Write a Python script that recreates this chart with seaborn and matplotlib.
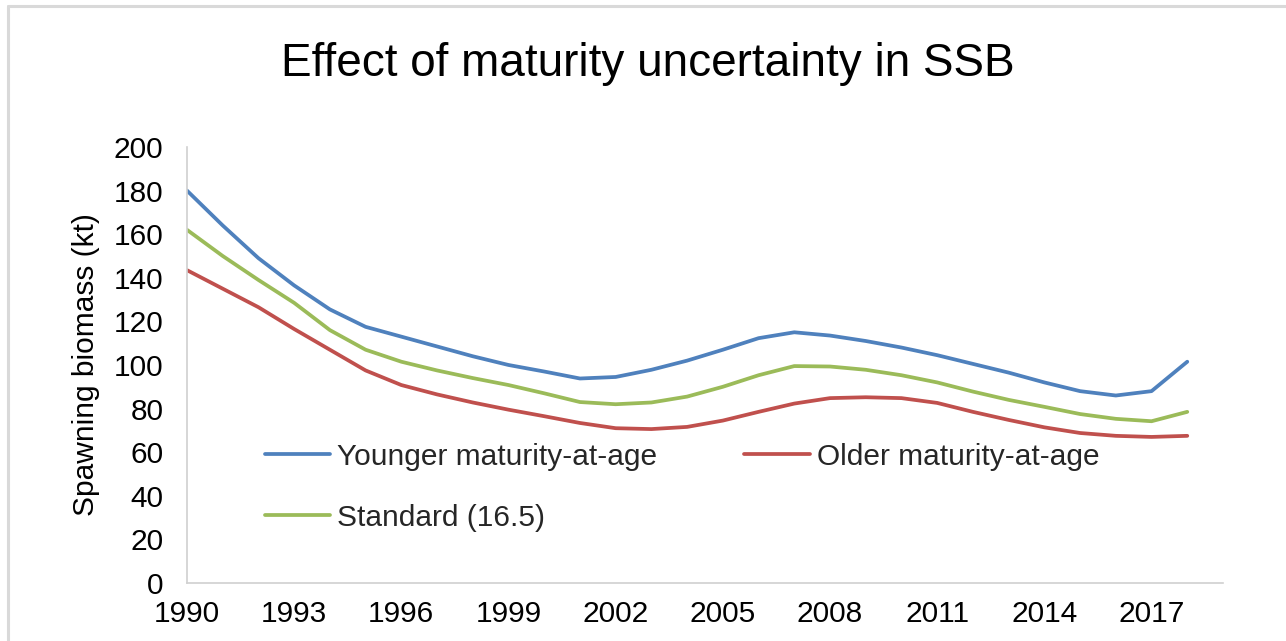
import pandas as pd
import matplotlib.pyplot as plt
import seaborn as sns
from matplotlib.lines import Line2D

years = list(range(1990, 2019))

younger = [180, 164, 149, 136.5, 125.5, 117.5, 113, 108.5, 104, 100, 97, 93.8, 94.5,
           97.8, 102, 107, 112.3, 115, 113.5, 111, 108, 104.5, 100.5, 96.5, 92,
           88, 86, 88, 101.5]
older = [143.5, 135, 126.5, 116.5, 107, 97.5, 90.8, 86.5, 82.8, 79.5, 76.5, 73.4, 71,
         70.6, 71.6, 74.5, 78.5, 82.3, 84.8, 85.2, 84.8, 82.6, 78.5, 74.8, 71.4,
         68.8, 67.5, 67, 67.5]
standard = [162, 150, 139, 128.5, 116, 107, 101.5, 97.5, 94, 90.8, 87, 83, 82,
            82.8, 85.5, 90, 95.3, 99.5, 99.3, 97.8, 95.3, 92, 87.8, 84, 80.8,
            77.5, 75.3, 74.2, 78.5]

labels = ["Younger maturity-at-age", "Older maturity-at-age", "Standard (16.5)"]
colors = ["#4F81BD", "#C0504D", "#9BBB59"]

df = pd.DataFrame({
    "Year": years * 3,
    "SSB": younger + older + standard,
    "Series": [labels[0]] * len(years) + [labels[1]] * len(years) + [labels[2]] * len(years),
})

sns.set_theme(style="white")
plt.rcParams["font.family"] = ["Liberation Sans", "DejaVu Sans"]

fig = plt.figure(figsize=(12.86, 6.41), dpi=100)
ax = fig.add_axes([0.1454, 0.0905, 0.951 - 0.1454, 0.7707 - 0.0905])

sns.lineplot(data=df, x="Year", y="SSB", hue="Series", hue_order=labels,
             palette=colors, linewidth=2.7, ax=ax, legend=False)

ax.set_xlim(1990, 2019)
ax.set_ylim(0, 200)
ax.set_xticks(range(1990, 2018, 3))
ax.set_yticks(range(0, 201, 20))
ax.tick_params(axis="both", length=0, labelsize=21.5, colors="black")
ax.tick_params(axis="y", pad=17)
ax.tick_params(axis="x", pad=12)
ax.set_xlabel("")
ax.set_ylabel("Spawning biomass (kt)", fontsize=21.5, color="black", labelpad=10)
for side in ["top", "right"]:
    ax.spines[side].set_visible(False)
for side in ["left", "bottom"]:
    ax.spines[side].set_color("#d0d0d0")
    ax.spines[side].set_linewidth(1.2)

# legend: row 1 Younger / Older, row 2 Standard
handles = [Line2D([], [], color=colors[0], lw=2.7),
           Line2D([], [], color=colors[2], lw=2.7),
           Line2D([], [], color=colors[1], lw=2.7)]
ax.legend(handles, [labels[0], labels[2], labels[1]], ncol=2, frameon=False,
          loc="upper left", bbox_to_anchor=(0.049, 0.383), fontsize=21.5,
          handlelength=2.2, handletextpad=0.24, columnspacing=2.9,
          labelspacing=1.1)

fig.text(0.504, 0.900, "Effect of maturity uncertainty in SSB",
         ha="center", va="center", fontsize=33, color="black")

# chart border (partially cropped in the reference)
fig.add_artist(Line2D([8 / 1286, 8 / 1286], [0, 1 - 6 / 641],
                      transform=fig.transFigure, color="#d9d9d9", lw=2.2))
fig.add_artist(Line2D([8 / 1286, 1], [1 - 6 / 641, 1 - 6 / 641],
                      transform=fig.transFigure, color="#d9d9d9", lw=2.2))

fig.savefig("out.png", dpi=100)
